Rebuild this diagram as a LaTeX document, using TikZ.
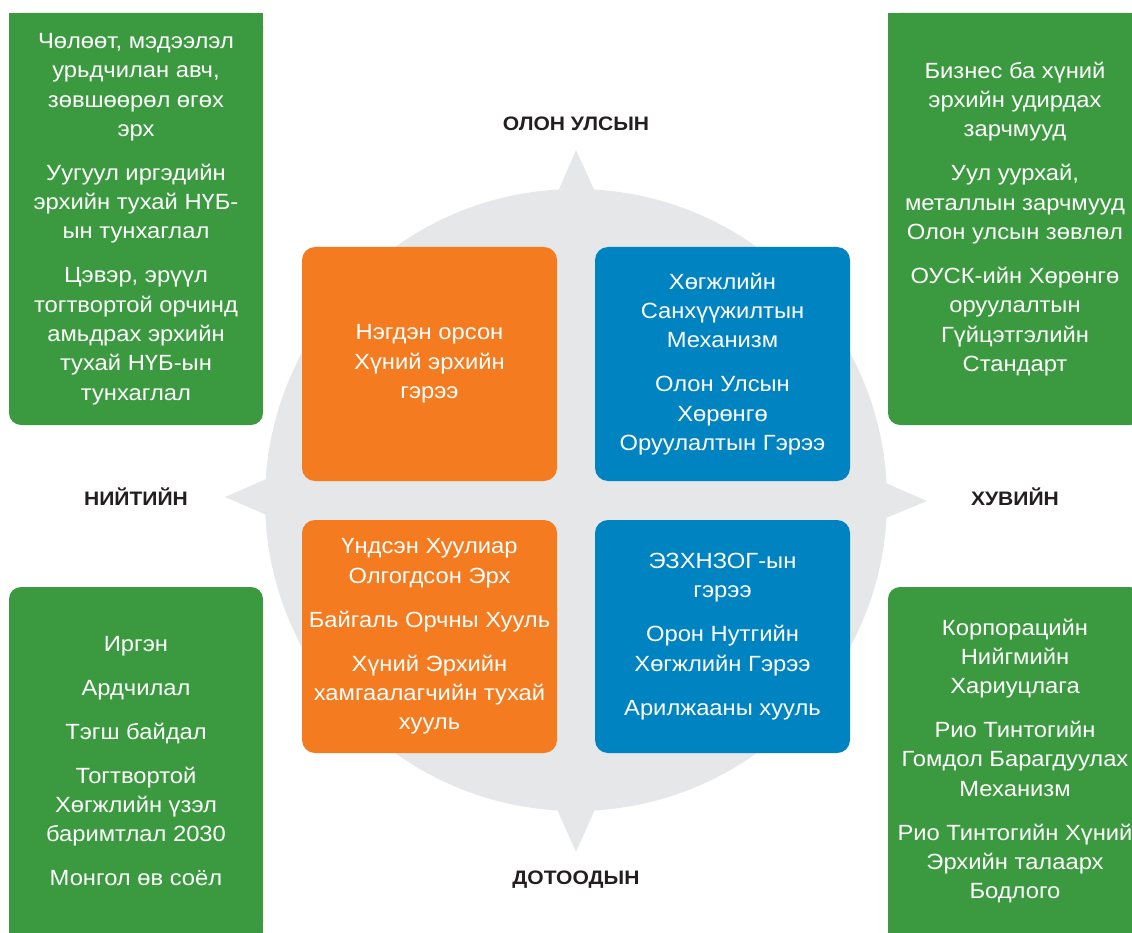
\documentclass[tikz,border=0pt]{standalone}
\usepackage{fontspec}
\setmainfont[FakeStretch=1.08]{Liberation Sans}
\definecolor{greenC}{RGB}{59,154,63}
\definecolor{orangeC}{RGB}{244,123,32}
\definecolor{blueC}{RGB}{0,131,193}
\definecolor{grayC}{RGB}{230,231,232}
\definecolor{labC}{RGB}{35,31,32}
\begin{document}
\begin{tikzpicture}[x=1pt,y=-1pt,
  bodytext/.style={align=center, text=white, inner sep=0pt, font=\fontsize{22}{29.3}\selectfont},
  quad/.style={bodytext, rounded corners=13pt, minimum width=255pt, minimum height=234pt},
  side/.style={bodytext, fill=greenC, rounded corners=12pt, minimum width=254pt},
  lab/.style={text=labC, inner sep=0pt, font=\bfseries\fontsize{19.5}{23}\selectfont}]
\useasboundingbox (0,0) rectangle (1132,933);
\begin{scope}
\clip (0,0) rectangle (1132,933);
% compass background
\fill[grayC] (576,500) circle (311);
\fill[grayC] (556,196) -- (576,150) -- (597,196) -- cycle;
\fill[grayC] (271,477) -- (225,497) -- (271,517) -- cycle;
\fill[grayC] (881,481) -- (927,501) -- (881,520) -- cycle;
\fill[grayC] (555,805) -- (576,852) -- (597,805) -- cycle;
% square-corner patches of side boxes
\fill[greenC] (9,13) rectangle (263,40);
\fill[greenC] (888,13) rectangle (1142,40);
\fill[greenC] (9,900) rectangle (263,940);
\fill[greenC] (888,900) rectangle (1142,940);
% side boxes
\node[side, minimum height=412pt] (gtl) at (136,219) {Чөлөөт, мэдээлэл\\урьдчилан авч,\\зөвшөөрөл өгөх\\эрх\\[14.7pt]Уугуул иргэдийн\\эрхийн тухай НҮБ-\\ын тунхаглал\\[14.7pt]Цэвэр, эрүүл\\тогтвортой орчинд\\амьдрах эрхийн\\тухай НҮБ-ын\\тунхаглал};
\node[side, minimum height=412pt] (gtr) at (1015,219) {Бизнес ба хүний\\эрхийн удирдах\\зарчмууд\\[14.7pt]Уул уурхай,\\металлын зарчмууд\\Олон улсын зөвлөл\\[14.7pt]ОУСК-ийн Хөрөнгө\\оруулалтын\\Гүйцэтгэлийн\\Стандарт};
\node[side, minimum height=348pt] (gbl) at (136,761) {Иргэн\\[14.7pt]Ардчилал\\[14.7pt]Тэгш байдал\\[14.7pt]Тогтвортой\\Хөгжлийн үзэл\\баримтлал 2030\\[14.7pt]Монгол өв соёл};
\node[side, minimum height=348pt] (gbr) at (1015,761) {Корпорацийн\\Нийгмийн\\Хариуцлага\\[14.7pt]Рио Тинтогийн\\Гомдол Барагдуулах\\Механизм\\[14.7pt]Рио Тинтогийн Хүний\\Эрхийн талаарх\\Бодлого};
% quadrants
\node[quad, fill=orangeC] (qtl) at (429.5,364) {Нэгдэн орсон\\Хүний эрхийн\\гэрээ};
\node[quad, fill=blueC] (qtr) at (722.5,364) {Хөгжлийн\\Санхүүжилтын\\Механизм\\[14.7pt]Олон Улсын\\Хөрөнгө\\Оруулалтын Гэрээ};
\node[quad, fill=orangeC, minimum height=233pt] (qbl) at (429.5,636.5) {Үндсэн Хуулиар\\Олгогдсон Эрх\\[14.7pt]Байгаль Орчны Хууль\\[14.7pt]Хүний Эрхийн\\хамгаалагчийн тухай\\хууль};
\node[quad, fill=blueC, minimum height=233pt] (qbr) at (722.5,636.5) {ЭЗХНЗОГ-ын\\гэрээ\\[14.7pt]Орон Нутгийн\\Хөгжлийн Гэрээ\\[14.7pt]Арилжааны хууль};
% axis labels
\node[lab] (ltop) at (576,124) {ОЛОН УЛСЫН};
\node[lab] (lleft) at (136,497) {НИЙТИЙН};
\node[lab] (lright) at (1015,497) {ХУВИЙН};
\node[lab] (lbot) at (576,880) {ДОТООДЫН};
\end{scope}
\end{tikzpicture}
\end{document}
